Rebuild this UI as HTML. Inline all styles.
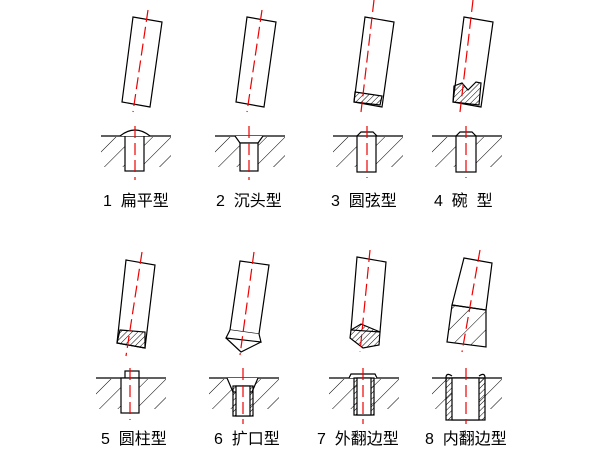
<!DOCTYPE html>
<html><head><meta charset="utf-8"><style>
body{margin:0;background:#fff;}
svg{display:block}
text{font-family:"Liberation Sans","Noto Sans CJK SC",sans-serif;font-size:16px;fill:#000}
</style></head><body>
<svg width="611" height="458" viewBox="0 0 611 458" xmlns="http://www.w3.org/2000/svg">
<defs>
<pattern id="h" width="13" height="13" patternUnits="userSpaceOnUse" patternTransform="rotate(45)">
<line x1="0" y1="0" x2="0" y2="13" stroke="#000" stroke-width="1"/>
</pattern>
<pattern id="d" width="4" height="4" patternUnits="userSpaceOnUse" patternTransform="rotate(45)">
<line x1="0" y1="0" x2="0" y2="4" stroke="#000" stroke-width="1"/>
</pattern>
<g id="ground">
<rect x="-34" y="1" width="70" height="30" fill="url(#h)" stroke="none"/>
<line x1="-34" y1="0" x2="36" y2="0" stroke="#000"/>
</g>
</defs>
<g fill="none" stroke="#000" stroke-width="1.2">
<g transform="translate(135,0)">
<polygon points="-2,17 27,22 15,107 -13,102" fill="#fff"/>
<use href="#ground" y="136"/>
<rect x="-10" y="136" width="19" height="35" fill="#fff"/>
<path d="M-15,136 Q0,124 15,136" fill="#fff"/>
<line x1="13" y1="10" x2="-2" y2="112" stroke="#e00" stroke-dasharray="12,5"/>
<line x1="0" y1="126" x2="0" y2="180" stroke="#e00" stroke-dasharray="12,5"/>
</g>
<g transform="translate(249,0)">
<polygon points="-2,17 27,22 15,107 -13,102" fill="#fff"/>
<use href="#ground" y="136"/>
<path d="M-14,136 L-9,143 L9,143 L14,136" fill="#fff"/>
<rect x="-9" y="143" width="18" height="28" fill="#fff"/>
<line x1="13" y1="10" x2="-2" y2="112" stroke="#e00" stroke-dasharray="12,5"/>
<line x1="0" y1="126" x2="0" y2="180" stroke="#e00" stroke-dasharray="12,5"/>
</g>
<g transform="translate(367,0)">
<polygon points="-2,17 27,22 15,107 -13,102" fill="#fff"/>
<polygon points="-12,92 15,96 13,105 -13,102" fill="url(#d)"/>
<use href="#ground" y="136"/>
<path d="M-10,136 L-6,132 L6,132 L10,136" fill="#fff"/>
<rect x="-10" y="136" width="19" height="36" fill="#fff"/>
<line x1="7" y1="0" x2="-6" y2="112" stroke="#e00" stroke-dasharray="12,5"/>
<line x1="0" y1="126" x2="0" y2="178" stroke="#e00" stroke-dasharray="12,5"/>
</g>
<g transform="translate(466,0)">
<polygon points="-2,17 27,22 15,107 -13,102" fill="#fff"/>
<polygon points="-12,86 -4,83 2,90 10,82 15,83 13,105 -13,102" fill="url(#d)"/>
<use href="#ground" y="136"/>
<path d="M-10,136 L-6,132 L6,132 L10,136" fill="#fff"/>
<rect x="-10" y="136" width="20" height="36" fill="#fff"/>
<line x1="7" y1="0" x2="-6" y2="112" stroke="#e00" stroke-dasharray="12,5"/>
<line x1="0" y1="126" x2="0" y2="178" stroke="#e00" stroke-dasharray="12,5"/>
</g>
<g transform="translate(130,0)">
<polygon points="-4,260 25,265 15,348 -13,343" fill="#fff"/>
<polygon points="-10,330 15,332 15,348 -13,343" fill="url(#d)"/>
<use href="#ground" y="378"/>
<rect x="-5" y="371" width="14" height="7" fill="#fff"/>
<rect x="-9" y="378" width="18" height="35" fill="#fff"/>
<line x1="12" y1="252" x2="-4" y2="356" stroke="#e00" stroke-dasharray="12,5"/>
<line x1="0" y1="368" x2="0" y2="420" stroke="#e00" stroke-dasharray="12,5"/>
</g>
<g transform="translate(243,0)">
<polygon points="-3,261 26,265 16,334 -13,330" fill="#fff"/>
<path d="M-13,330 L-17,338 L18,342 L16,334 M-17,338 L-2,352 L18,342" fill="#fff"/>
<use href="#ground" y="378"/>
<path d="M-16,378 L-10,392 L9,392 L15,378" fill="#fff"/>
<rect x="-10" y="386" width="20" height="30" fill="url(#d)"/>
<rect x="-7" y="386" width="14" height="30" fill="#fff"/>
<line x1="11" y1="252" x2="-3" y2="355" stroke="#e00" stroke-dasharray="12,5"/>
<line x1="0" y1="368" x2="0" y2="424" stroke="#e00" stroke-dasharray="12,5"/>
</g>
<g transform="translate(363,0)">
<polygon points="-6,257 23,262 17,332 -12,330" fill="#fff"/>
<polygon points="-12,330 -2,324 17,332 16,345 0,348 -13,338" fill="url(#d)"/>
<use href="#ground" y="378"/>
<path d="M-14,378 L-12,374 L12,374 L14,378" fill="#fff"/>
<rect x="-9" y="378" width="20" height="37" fill="url(#d)"/>
<rect x="-6" y="378" width="14" height="37" fill="#fff"/>
<line x1="7" y1="250" x2="-3" y2="352" stroke="#e00" stroke-dasharray="12,5"/>
<line x1="0" y1="368" x2="0" y2="424" stroke="#e00" stroke-dasharray="12,5"/>
</g>
<g transform="translate(466,0)">
<polygon points="-2,258 26,263 20,310 -14,305" fill="#fff"/>
<polygon points="-14,305 20,310 20,347 -19,342" fill="url(#h)"/>
<use href="#ground" y="378"/>
<rect x="-20" y="378" width="39" height="42" fill="url(#d)"/>
<rect x="-14" y="378" width="27" height="42" fill="#fff"/>
<path d="M-20,378 Q-20,372 -14,376 M13,376 Q19,372 19,378" />
<line x1="14" y1="250" x2="-4" y2="352" stroke="#e00" stroke-dasharray="12,5"/>
<line x1="0" y1="368" x2="0" y2="424" stroke="#e00" stroke-dasharray="12,5"/>
</g>
</g>
<text x="103" y="206" xml:space="preserve">1  扁平型</text>
<text x="216" y="206" xml:space="preserve">2  沉头型</text>
<text x="331" y="206" xml:space="preserve">3  圆弦型</text>
<text x="434" y="206" xml:space="preserve">4  碗  型</text>
<text x="101" y="444" xml:space="preserve">5  圆柱型</text>
<text x="214" y="444" xml:space="preserve">6  扩口型</text>
<text x="317" y="444" xml:space="preserve">7  外翻边型</text>
<text x="425" y="444" xml:space="preserve">8  内翻边型</text>
</svg>
</body></html>
